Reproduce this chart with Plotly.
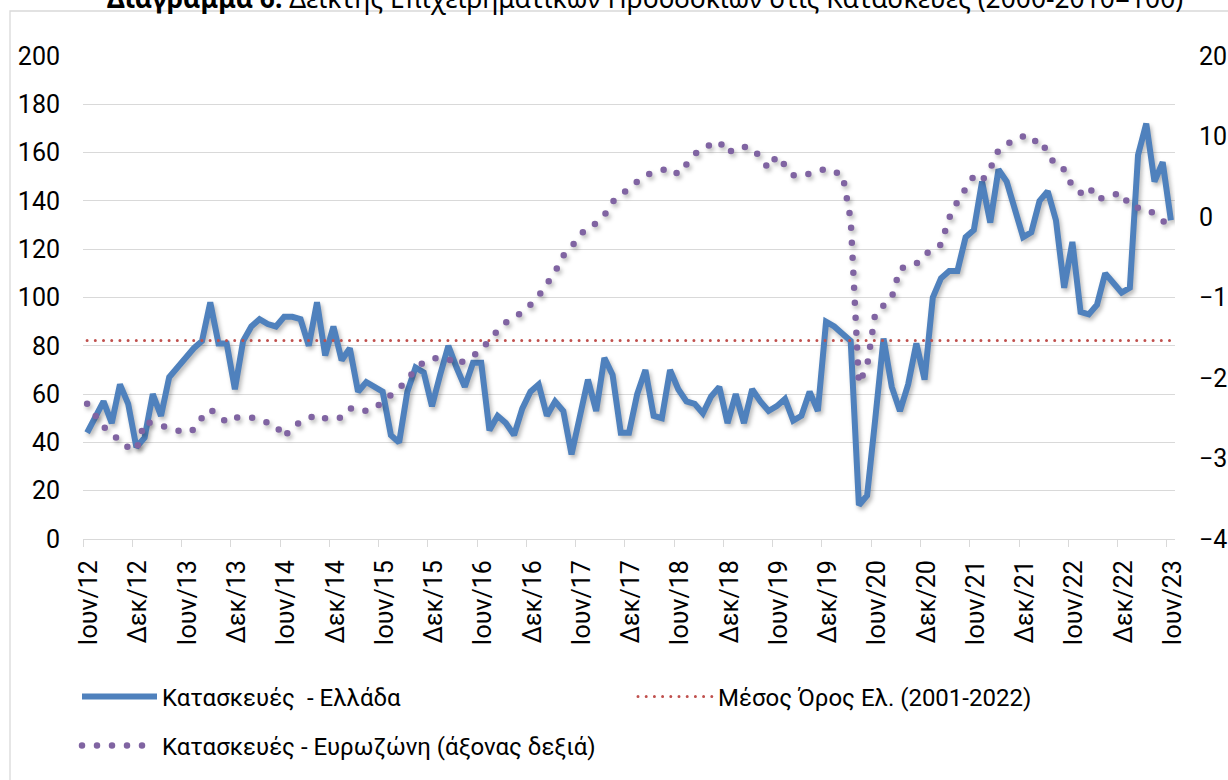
import plotly.graph_objects as go
import pandas as pd

# ---------------- data ----------------
greece = [
    44, 51, 57, 48, 64, 56, 38, 42, 60, 51,
    67, 71, 75, 79, 82, 98, 81, 81, 62, 82,
    88, 91, 89, 88, 92, 92, 91, 80, 98, 76,
    88, 74, 79, 61, 65, 63, 61, 43, 40, 61,
    71, 69, 55, 68, 80, 71, 63, 73, 73, 45,
    51, 48, 43, 54, 61, 64, 51, 57, 53, 35,
    52, 66, 53, 75, 68, 44, 44, 60, 70, 51,
    50, 70, 62, 57, 56, 52, 59, 63, 48, 60,
    48, 62, 57, 53, 55, 58, 49, 51, 61, 53,
    90, 88, 85, 82, 14, 18, 50, 83, 63, 53,
    64, 81, 66, 100, 108, 111, 111, 125, 128, 148,
    131, 153, 148, 137, 125, 127, 140, 144, 132, 104,
    123, 94, 93, 97, 110, 106, 102, 104, 159, 172,
    148, 156, 132,
]

eurozone = [
    -23.2, -24.6, -26.1, -26.7, -28.0, -28.6, -29.0, -25.4, -25.6, -25.9,
    -26.2, -26.5, -26.8, -26.4, -24.9, -23.9, -24.6, -25.5, -24.9, -24.9,
    -24.9, -25.2, -25.6, -25.9, -27.4, -26.0, -25.5, -25.0, -24.5, -25.0,
    -25.1, -24.9, -23.8, -23.7, -24.1, -23.8, -23.0, -22.3, -21.3, -20.2,
    -18.9, -18.0, -17.6, -17.5, -17.6, -18.4, -17.8, -17.2, -16.6, -15.2,
    -14.0, -13.1, -12.4, -11.9, -10.9, -9.8, -8.3, -6.8, -4.8, -3.7,
    -2.3, -1.2, -0.8, 0.2, 1.9, 2.8, 3.7, 4.4, 5.2, 5.5,
    5.6, 6.1, 5.3, 6.5, 7.8, 8.6, 8.9, 9.4, 7.9, 8.6,
    8.7, 8.6, 7.4, 6.0, 7.6, 6.3, 5.2, 5.1, 5.4, 5.8,
    6.0, 5.6, 5.3, -0.3, -20.7, -18.5, -11.9, -11.0, -10.0, -6.4,
    -6.0, -5.8, -4.6, -4.2, -3.4, -0.1, 1.9, 3.4, 5.1, 4.5,
    6.0, 8.3, 9.0, 9.7, 10.0, 9.2, 9.7, 8.0, 6.3, 5.9,
    3.8, 3.0, 3.8, 2.2, 2.5, 2.8, 3.0, 1.3, 1.2, 1.0,
    0.4, -0.5, -1.3,
]

mean_2001_2022 = 82.2

month_abbr = ["Ιαν", "Φεβ", "Μαρ", "Απρ", "Μαϊ", "Ιουν",
              "Ιουλ", "Αυγ", "Σεπ", "Οκτ", "Νοε", "Δεκ"]
dates = pd.date_range("2012-06-01", periods=len(greece), freq="MS")
categories = [f"{month_abbr[d.month - 1]}/{d.year % 100:02d}" for d in dates]

left_ticks = list(range(0, 201, 20))
right_ticks = list(range(-40, 21, 10))

name_gr = "Κατασκευές  - Ελλάδα"
name_mean = "Μέσος Όρος Ελ. (2001-2022)"
name_ez = "Κατασκευές - Ευρωζώνη (άξονας δεξιά)"
title_text = ("<b>Διάγραμμα 6:</b> Δείκτης Επιχειρηματικών Προσδοκιών "
              "στις Κατασκευές (2000-2010=100)")

# ---------------- layout helpers (pixel -> paper) ----------------
W, H = 1228, 780
ML, MR, MT, MB = 83, 53, 56, 241
PW, PH = W - ML - MR, H - MT - MB


def px2x(px):
    return (px - ML) / PW


def py2y(py):
    return (H - MB - py) / PH


FONT = "Roboto"
TXT = "#000000"
GRID = "#d9d9d9"
BLUE = "rgb(79,129,189)"
PURPLE = "rgb(128,100,162)"
RED = "rgb(192,80,77)"
TICK_SIZE = 25
LEG_SIZE = 24

fig = go.Figure()

fig.add_trace(go.Scatter(
    x=categories, y=greece, name=name_gr, mode="lines",
    line=dict(color=BLUE, width=6), legend="legend",
))
fig.add_trace(go.Scatter(
    x=categories, y=[mean_2001_2022] * len(categories), name=name_mean,
    mode="lines", line=dict(color=RED, width=3, dash="0px,8.2px"),
    legend="legend2",
))
fig.add_trace(go.Scatter(
    x=categories, y=eurozone, name=name_ez, mode="lines", yaxis="y2",
    line=dict(color=PURPLE, width=6.5, dash="0px,15px"), legend="legend3",
))

legend_common = dict(
    xanchor="left", yanchor="middle", orientation="v",
    bgcolor="rgba(0,0,0,0)", borderwidth=0, itemwidth=75,
    font=dict(family=FONT, size=LEG_SIZE, color=TXT),
)

fig.update_layout(
    width=W, height=H,
    margin=dict(l=ML, r=MR, t=MT, b=MB, pad=0),
    paper_bgcolor="white", plot_bgcolor="white",
    font=dict(family=FONT, size=TICK_SIZE, color=TXT),
    showlegend=True,
    legend=dict(x=px2x(77), y=py2y(697), **legend_common),
    legend2=dict(x=px2x(633), y=py2y(697), **legend_common),
    legend3=dict(x=px2x(77), y=py2y(746), **legend_common),
    xaxis=dict(
        type="category", range=[-0.5, len(categories) - 0.5],
        tickmode="linear", tick0=0, dtick=6, tickson="boundaries",
        ticks="outside", ticklen=7, tickwidth=1.3, tickcolor=GRID,
        showline=True, linecolor=GRID, linewidth=1.3,
        showgrid=False, zeroline=False, tickangle=-90,
        tickfont=dict(family=FONT, size=TICK_SIZE, color=TXT),
        ticklabelstandoff=10, ticklabelshift=2, automargin=False,
    ),
    yaxis=dict(
        range=[0, 200], tickmode="array", tickvals=left_ticks,
        showgrid=True, gridcolor=GRID, gridwidth=1.3,
        zeroline=False, showline=False, ticks="",
        tickfont=dict(family=FONT, size=TICK_SIZE, color=TXT),
        ticklabelstandoff=22, automargin=False,
    ),
    yaxis2=dict(
        range=[-40, 20], tickmode="array", tickvals=right_ticks,
        overlaying="y", side="right",
        showgrid=False, zeroline=False, showline=False, ticks="",
        tickfont=dict(family=FONT, size=TICK_SIZE, color=TXT),
        ticklabelstandoff=23, automargin=False,
    ),
    annotations=[dict(
        text=title_text, xref="paper", yref="paper",
        x=px2x(645), y=py2y(-2), xanchor="center", yanchor="middle",
        showarrow=False, font=dict(family="Noto Sans", size=26.4, color=TXT),
    )],
    shapes=[dict(
        type="rect", xref="paper", yref="paper",
        x0=px2x(10), y0=py2y(11), x1=px2x(1400), y1=py2y(900),
        line=dict(color=GRID, width=1.3), fillcolor="rgba(0,0,0,0)",
        layer="above",
    )],
)

post = """
document.body.style.margin = '0';
document.body.style.padding = '0';
document.body.style.overflow = 'hidden';
var gd = document.getElementById('{plot_id}');
function styleLines(){
  gd.querySelectorAll('path.js-line').forEach(function(p){
    var da = p.style.strokeDasharray;
    if (da && da !== 'none') { p.style.strokeLinecap = 'round'; }
  });
  gd.querySelectorAll('.scatterlayer path.js-line').forEach(function(p){
    var s = p.style.stroke || '';
    if (s.indexOf('79, 129, 189') >= 0 || s.indexOf('128, 100, 162') >= 0) {
      p.style.filter = 'drop-shadow(2px 3px 2px rgba(0,0,0,0.28))';
    }
  });
}
styleLines();
if (gd.on) { gd.on('plotly_afterplot', styleLines); }
"""

fig.write_html("out.html", post_script=post, config={"displayModeBar": False})
